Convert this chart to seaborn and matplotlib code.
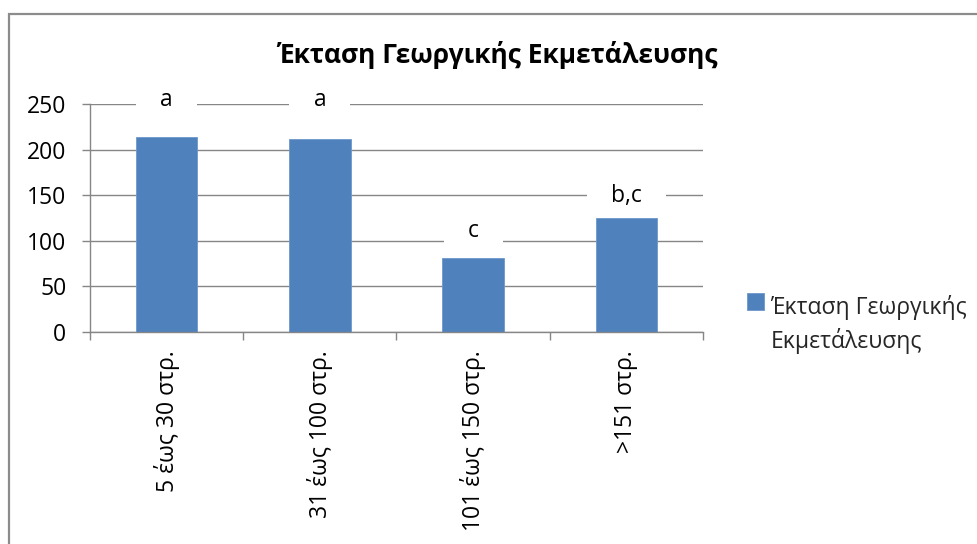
import matplotlib
matplotlib.use("Agg")
import matplotlib.pyplot as plt
import matplotlib.patches as mpatches
from matplotlib.path import Path
from matplotlib.legend_handler import HandlerPatch
from matplotlib.ticker import FixedLocator
import seaborn as sns
import pandas as pd

# Farm size classes (στρέμματα) and the plotted values
categories = ["5 έως 30 στρ.", "31 έως 100 στρ.", "101 έως 150 στρ.", ">151 στρ."]
values = [214, 212, 81, 125]
# Significance letters and the height at which each one sits
letters = ["a", "a", "c", "b,c"]
letter_y = [254, 254, 111, 149]
series_name = "Έκταση Γεωργικής Εκμετάλευσης"
y_ticks = [0, 50, 100, 150, 200, 250]

sns.set_theme(style="white")
plt.rcParams["font.family"] = ["Open Sans", "DejaVu Sans"]

df = pd.DataFrame({"cat": categories, "val": values})

W, H = 978, 544
fig = plt.figure(figsize=(W / 100, H / 100), dpi=100)
fig.patch.set_facecolor("white")

ax = fig.add_axes([90 / W, 1 - 332 / H, (703 - 90) / W, (332 - 104) / H])
blue = "#4F81BD"
grey = "#868686"

sns.barplot(data=df, x="cat", y="val", color=blue, width=0.4, ax=ax,
            saturation=1, edgecolor="#6C98CC", linewidth=0.6, zorder=2)

ax.set_xlim(-0.5, len(categories) - 0.5)
ax.set_ylim(0, 250)
ax.set_yticks(y_ticks)
ax.set_yticklabels([str(t) for t in y_ticks])
ax.set_xlabel("")
ax.set_ylabel("")

# horizontal gridlines behind the bars
ax.set_axisbelow(True)
ax.yaxis.grid(True, color=grey, linewidth=1.0)
ax.xaxis.grid(False)

for side in ("top", "right"):
    ax.spines[side].set_visible(False)
for side in ("left", "bottom"):
    ax.spines[side].set_color(grey)
    ax.spines[side].set_linewidth(1.0)

ax.tick_params(axis="y", which="major", length=6, width=1.0, color=grey,
               direction="out", left=True, pad=11, labelsize=16.5, labelcolor="black")
ax.tick_params(axis="x", which="major", length=0, pad=13, labelsize=16.5,
               labelcolor="black")
ax.xaxis.set_minor_locator(FixedLocator([i - 0.5 for i in range(len(categories) + 1)]))
ax.tick_params(axis="x", which="minor", length=6, width=1.0, color=grey,
               direction="out", bottom=True)
for lab in ax.get_xticklabels():
    lab.set_rotation(90)
    lab.set_ha("center")
    lab.set_va("top")


def wide_box(x0, y0, width, height, mutation_size):
    """Rectangle padded generously left/right and only slightly top/bottom."""
    px = 1.05 * mutation_size
    py = 0.15 * mutation_size
    x0, x1 = x0 - px, x0 + width + px
    y0, y1 = y0 - py, y0 + height + py
    return Path([(x0, y0), (x1, y0), (x1, y1), (x0, y1), (x0, y0)], closed=True)


# letter labels with white boxes that break the gridlines
for i, (txt, yy) in enumerate(zip(letters, letter_y)):
    ax.text(i, yy, txt, ha="center", va="center", fontsize=16.5, color="black",
            zorder=1.5, clip_on=False,
            bbox=dict(boxstyle=wide_box, facecolor="white", edgecolor="none"))

fig.text(498 / W, 1 - 55 / H, series_name, ha="center", va="center",
         fontsize=19, fontweight="bold", color="black")


def top_square(legend, orig_handle, xdescent, ydescent, width, height, fontsize):
    # square key placed level with the first line of the label
    size = width
    lift = 0.7 * fontsize
    return mpatches.Rectangle((-xdescent, -ydescent + height - size + lift), size, size)


handle = mpatches.Patch(facecolor=blue, edgecolor="#6C98CC", linewidth=0.6)
leg = fig.legend([handle], ["Έκταση Γεωργικής\nΕκμετάλευσης"], loc="upper left",
                 bbox_to_anchor=(747 / W, 1 - 295 / H), frameon=False, fontsize=16.5,
                 handlelength=0.72, handleheight=1.9, handletextpad=0.3,
                 borderaxespad=0, borderpad=0,
                 handler_map={mpatches.Patch: HandlerPatch(patch_func=top_square)})
for t in leg.get_texts():
    t.set_linespacing(1.4)

# outer chart frame
frame = mpatches.Rectangle((8.5 / W, -0.2), 1.2, 1.2 - 13.5 / H, transform=fig.transFigure,
                           facecolor="none", edgecolor="#8C8C8C", linewidth=1.6,
                           clip_on=False)
fig.patches.append(frame)

fig.savefig("out.png", dpi=100, facecolor="white")
